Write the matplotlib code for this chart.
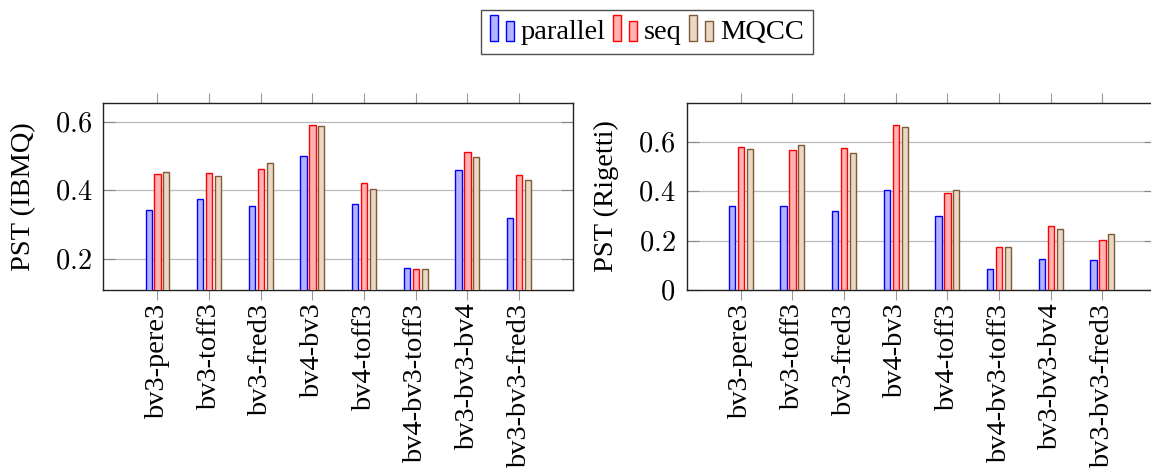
import numpy as np
import matplotlib
matplotlib.use("Agg")
import matplotlib.pyplot as plt
from matplotlib.patches import Rectangle
from matplotlib.legend_handler import HandlerBase

plt.rcParams['font.family'] = ['Liberation Serif', 'DejaVu Serif']
plt.rcParams['mathtext.fontset'] = 'cm'

benchmarks = ['bv3-pere3', 'bv3-toff3', 'bv3-fred3', 'bv4-bv3', 'bv4-toff3',
              'bv4-bv3-toff3', 'bv3-bv3-bv4', 'bv3-bv3-fred3']
series_names = ['parallel', 'seq', 'MQCC']

ibmq_parallel = [0.342, 0.376, 0.355, 0.500, 0.361, 0.175, 0.459, 0.320]
ibmq_seq = [0.448, 0.450, 0.463, 0.592, 0.422, 0.171, 0.513, 0.444]
ibmq_mqcc = [0.454, 0.442, 0.479, 0.588, 0.405, 0.172, 0.496, 0.431]

rigetti_parallel = [0.342, 0.339, 0.322, 0.404, 0.299, 0.086, 0.128, 0.122]
rigetti_seq = [0.580, 0.565, 0.574, 0.669, 0.391, 0.174, 0.258, 0.203]
rigetti_mqcc = [0.572, 0.585, 0.556, 0.658, 0.406, 0.174, 0.249, 0.226]

ibmq_ticks = [0.2, 0.4, 0.6]
rigetti_ticks = [0, 0.2, 0.4, 0.6]

# pgfplots style colors: X!30 fill with X edge
fills = ['#b3b3ff', '#ffb3b3', '#ebd8c4']
edges = ['#0000ff', '#ff0000', '#7d5a38']

FS = 20.5


class TwoBarHandler(HandlerBase):
    # legend image like pgfplots ybar legend: two little bars
    def create_artists(self, legend, orig_handle, xdescent, ydescent,
                       width, height, fontsize, trans):
        w = width * 0.34
        y0 = -ydescent - 0.1 * height
        r1 = Rectangle((-xdescent, y0), w, height * 1.3)
        r2 = Rectangle((-xdescent + width - w, y0), w, height * 1.0)
        for r in (r1, r2):
            r.set_facecolor(orig_handle.get_facecolor())
            r.set_edgecolor(orig_handle.get_edgecolor())
            r.set_linewidth(1.0)
            r.set_transform(trans)
        return [r1, r2]


def draw_panel(ax, data, yticks, ylim, ylabel):
    x = np.arange(len(benchmarks))
    offsets = [-0.172, 0.0, 0.172]
    handles = []
    for vals, off, fc, ec in zip(data, offsets, fills, edges):
        bars = ax.bar(x + off, vals, width=0.12, color=fc, edgecolor=ec,
                      linewidth=1.0, zorder=3)
        handles.append(bars[0])
    ax.set_xlim(-1.05, len(benchmarks) - 1 + 1.04)
    ax.set_ylim(*ylim)
    ax.set_xticks(x)
    ax.set_xticklabels(benchmarks, rotation=90, fontsize=FS, va='top')
    ax.set_yticks(yticks)
    ax.set_yticklabels(['$%g$' % t for t in yticks], fontsize=FS)
    ax.tick_params(axis='x', direction='out', length=7.5, width=0.8,
                   color='#999999', top=True, bottom=True, pad=2)
    ax.tick_params(axis='y', direction='in', length=8.5, width=0.8,
                   color='#888888', left=True, right=True, pad=8)
    ax.grid(axis='y', color='#bbbbbb', linewidth=0.9, zorder=0)
    for s in ax.spines.values():
        s.set_linewidth(1.0)
        s.set_color('#222222')
    ax.set_ylabel(ylabel, fontsize=FS)
    ax.yaxis.set_label_coords(-0.143, 0.5)
    return handles


def main():
    fig = plt.figure(figsize=(11.51, 4.70), dpi=100)
    ax1 = fig.add_axes([0.0897, 0.3823, 0.408, 0.399])
    ax2 = fig.add_axes([0.5965, 0.3823, 0.408, 0.399])

    handles = draw_panel(ax1, [ibmq_parallel, ibmq_seq, ibmq_mqcc],
                         ibmq_ticks, (0.1088, 0.6553), 'PST (IBMQ)')
    draw_panel(ax2, [rigetti_parallel, rigetti_seq, rigetti_mqcc],
               rigetti_ticks, (0, 0.757), 'PST (Rigetti)')

    leg = fig.legend(handles, series_names, loc='center',
                     bbox_to_anchor=(0.5618, 0.932), ncol=3, fontsize=FS,
                     handler_map={h: TwoBarHandler() for h in handles},
                     frameon=True, fancybox=False, handlelength=0.86,
                     handleheight=0.7, handletextpad=0.23, columnspacing=0.25,
                     borderpad=0.32, borderaxespad=0)
    leg.get_frame().set_edgecolor('#222222')
    leg.get_frame().set_linewidth(1.0)

    fig.savefig('out.png', dpi=100)


if __name__ == '__main__':
    main()
